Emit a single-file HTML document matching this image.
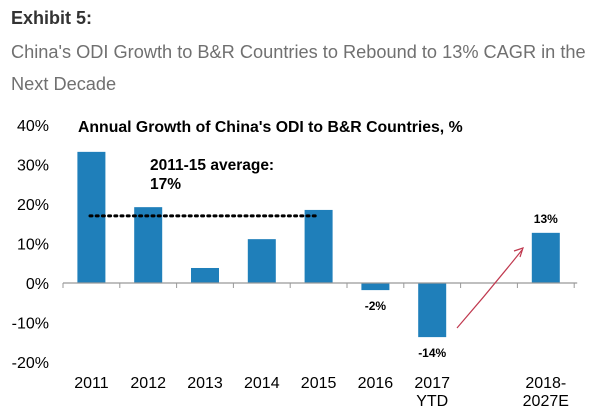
<!DOCTYPE html>
<html><head><meta charset="utf-8"><style>
body{margin:0;background:#fff;width:603px;height:414px;overflow:hidden;font-family:"Liberation Sans",sans-serif}
</style></head><body>
<svg width="603" height="414" style="position:absolute;left:0;top:0">
<text x="11" y="24" font-size="18" font-weight="bold" fill="#333">Exhibit 5:</text>
<text x="11" y="58" font-size="18.2" fill="#707070">China's ODI Growth to B&amp;R Countries to Rebound to 13% CAGR in the</text>
<text x="11" y="90" font-size="18.2" fill="#707070">Next Decade</text>
<text x="78" y="132" font-size="15.8" font-weight="bold" fill="#000">Annual Growth of China's ODI to B&amp;R Countries, %</text>
<g id="yaxis"></g><g id="bars"></g><g id="xaxis"></g>
<text x="150" y="170" font-size="15.5" font-weight="bold">2011-15 average:</text>
<text x="150" y="189" font-size="15.5" font-weight="bold">17%</text>
<path d="M457 328 Q490 290 522 250" fill="none" stroke="#c0394f" stroke-width="1.2"/>
<path d="M514 251 L523 248 L520 257" fill="none" stroke="#c0394f" stroke-width="1.2"/>
</svg>
<script>
const categories=["2011","2012","2013","2014","2015","2016","2017|YTD","","2018-|2027E"];
const values=[33.2,19.2,3.8,11.1,18.5,-1.8,-13.7,null,12.7];
const valueLabels=["","","","","","-2%","-14%","","13%"];
const yTicks=[40,30,20,10,0,-10,-20];
const average=17;
const ns="http://www.w3.org/2000/svg";
const x0=63,slot=56.8,zeroY=283,pp=3.95;
const y=v=>zeroY-v*pp;
function mk(t,a,p){const e=document.createElementNS(ns,t);for(const k in a)e.setAttribute(k,a[k]);p.appendChild(e);return e;}
const ya=document.getElementById('yaxis'),ba=document.getElementById('bars'),xa=document.getElementById('xaxis');
yTicks.forEach(t=>{const e=mk('text',{x:49,y:y(t)+6,'font-size':16,'text-anchor':'end',fill:'#000'},ya);e.textContent=t+'%';

});
values.forEach((v,i)=>{if(v==null)return;const cx=x0+slot*(i+0.5);
const r=mk('rect',{x:cx-14,y:Math.min(y(v),zeroY),width:28,height:Math.abs(y(v)-zeroY),fill:'#1f7fba'},ba);


if(valueLabels[i]){const t=mk('text',{x:cx,y:v<0?y(v)+20:y(v)-10,'font-size':12,'font-weight':'bold','text-anchor':'middle'},ba);t.textContent=valueLabels[i];

}});
const ax=mk('line',{x1:x0,x2:x0+slot*9+3,y1:zeroY,y2:zeroY,stroke:'#999','stroke-width':1.2},xa);


for(let i=0;i<=9;i++){const tk=mk('line',{x1:x0+slot*i,x2:x0+slot*i,y1:zeroY,y2:zeroY+5,stroke:'#999'},xa);

}
categories.forEach((c,i)=>{if(!c)return;const cx=x0+slot*(i+0.5);c.split('|').forEach((ln,j)=>{const t=mk('text',{x:cx,y:388+j*18,'font-size':16,'text-anchor':'middle'},xa);t.textContent=ln;

});});
const al=mk('line',{x1:90,x2:318,y1:y(average),y2:y(average),stroke:'#000','stroke-width':3,'stroke-dasharray':'2 4.2','stroke-linecap':'round'},xa);


</script>
</body></html>
